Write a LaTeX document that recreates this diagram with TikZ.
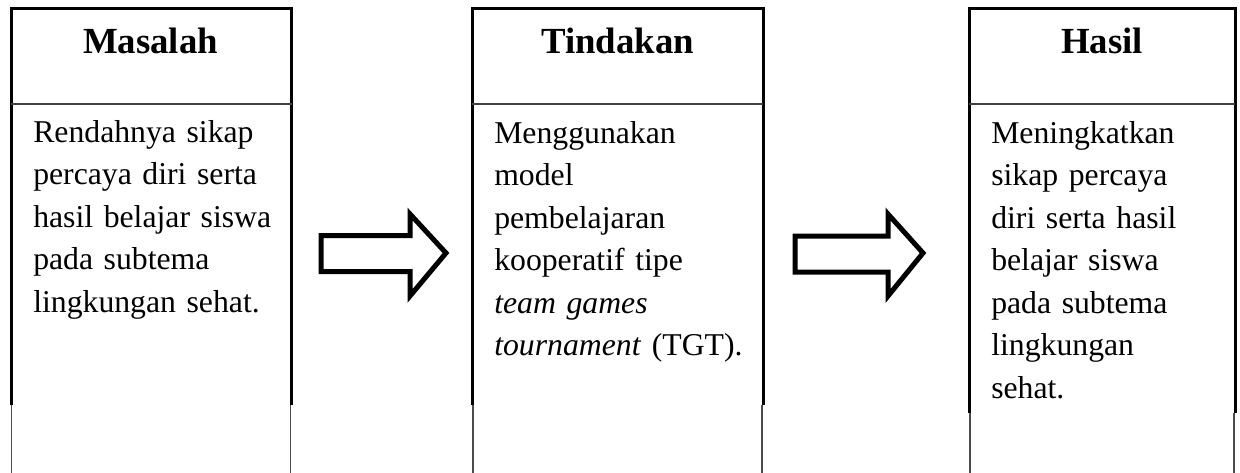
\documentclass[tikz,border=0pt]{standalone}
\usepackage{fontspec}
\setmainfont{Liberation Serif}
\begin{document}
\begin{tikzpicture}[x=0.75pt,y=-0.75pt,
  frame/.style={draw=black,line width=2.25pt,line join=miter},
  divider/.style={draw=black!75,line width=1.5pt},
  lowside/.style={draw=black!70,line width=1pt},
  head/.style={anchor=base,inner sep=0pt,font=\fontsize{27.6}{32}\selectfont\bfseries},
  bodytext/.style={anchor=base west,inner sep=0pt,align=left,text width=260pt,
    font=\fontsize{23.8}{31.9}\selectfont},
  blockarrow/.style={draw=black,line width=3.75pt,line join=miter,fill=white}]
\useasboundingbox (0,0) rectangle (1240,472);
% boxes: left, right, end of thick sides
\foreach \L/\R/\Y in {11/291.5/405, 472.3/763/405, 969.3/1235/413}{
  \draw[frame] (\L,\Y) -- (\L,8.5) -- (\R,8.5) -- (\R,\Y);
  \draw[divider] (\L,103.5) -- (\R,103.5);
  \draw[lowside] (\L+0.8,\Y) -- (\L+0.8,480);
  \draw[lowside] (\R-1,\Y) -- (\R-1,480);
}
% headers
\node[head] (h1) at (150.5,53) {Masalah};
\node[head] (h2) at (617.5,53) {Tindakan};
\node[head] (h3) at (1102,53) {Hasil};
% body texts
\node[bodytext] (t1) at (33,142) {Rendahnya sikap\\percaya diri serta\\hasil belajar siswa\\pada subtema\\lingkungan sehat.};
\node[bodytext] (t2) at (494,143) {Menggunakan\\model\\pembelajaran\\kooperatif tipe\\\textit{team games}\\\textit{tournament} (TGT).};
\node[bodytext] (t3) at (991,143) {Meningkatkan\\sikap percaya\\diri serta hasil\\belajar siswa\\pada subtema\\lingkungan\\sehat.};
% block arrows
\draw[blockarrow] (321,235.5) -- (410,235.5) -- (410,214) -- (446,253) -- (410,296) -- (410,271.5) -- (321,271.5) -- cycle;
\draw[blockarrow] (795,236) -- (888,236) -- (888,214) -- (923,253) -- (888,296) -- (888,272) -- (795,272) -- cycle;
\end{tikzpicture}
\end{document}
